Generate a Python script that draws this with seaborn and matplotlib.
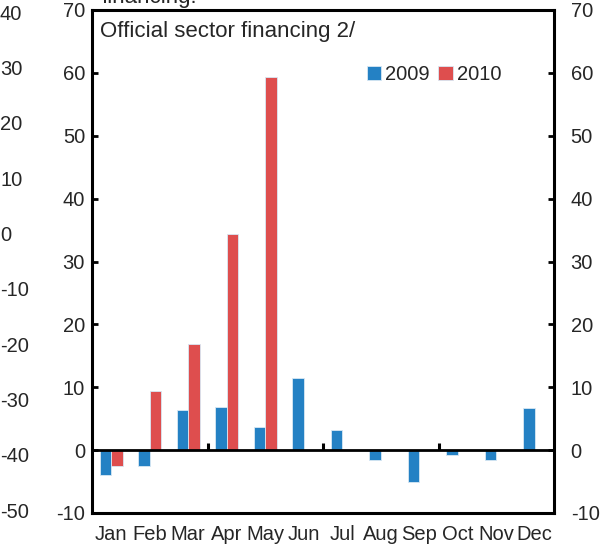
import numpy as np
import pandas as pd
import matplotlib
matplotlib.use("Agg")
import matplotlib.pyplot as plt
import matplotlib.transforms as mtrans
import seaborn as sns

months = ["Jan", "Feb", "Mar", "Apr", "May", "Jun", "Jul", "Aug", "Sep", "Oct", "Nov", "Dec"]
vals_2009 = [-4.0, -2.5, 6.4, 6.9, 3.7, 11.5, 3.2, -1.6, -5.1, -0.8, -1.6, 6.7]
vals_2010 = [-2.5, 9.4, 16.9, 34.4, 59.4]
years = ["2009", "2010"]
y_ticks = [-10, 0, 10, 20, 30, 40, 50, 60, 70]
neighbor_ticks = [-50, -40, -30, -20, -10, 0, 10, 20, 30, 40]
title = "Official sector financing 2/"
clipped_title = "financing:"

rows = []
for m, v in zip(months, vals_2009):
    rows.append({"month": m, "year": "2009", "value": v})
for m, v in zip(months, vals_2010):
    rows.append({"month": m, "year": "2010", "value": v})
df = pd.DataFrame(rows)

sns.set_theme(style="white")
plt.rcParams["font.family"] = ["Liberation Sans", "DejaVu Sans"]
plt.rcParams["axes.unicode_minus"] = False
FS = 14.5
TFS = 16

W, H = 600, 547
fig = plt.figure(figsize=(W / 100, H / 100), dpi=100)
L, R, T, B = 92, 554, 10, 513
ax = fig.add_axes([L / W, 1 - B / H, (R - L) / W, (B - T) / H])

blue = "#2481C4"
red = "#DE4E4E"
sns.barplot(data=df, x="month", y="value", hue="year", order=months, hue_order=years,
            palette=[blue, red], saturation=1, width=0.6, errorbar=None, ax=ax,
            edgecolor="#d8e8f4", linewidth=0.6)

ax.set_ylim(-10, 70)
ax.set_xlim(-0.5, 11.5)
ax.set_yticks(y_ticks)
ax.set_xlabel("")
ax.set_ylabel("")
ax.axhline(0, color="black", lw=2, zorder=3)

for s in ax.spines.values():
    s.set_visible(True)
    s.set_color("black")
    s.set_linewidth(2.2)

ax.tick_params(axis="y", which="major", left=True, right=True, labelleft=True, labelright=True,
               direction="in", length=4, width=2, color="black", labelsize=FS, pad=5)
ax.tick_params(axis="x", bottom=False, length=0, labelsize=FS, pad=9)

off = mtrans.ScaledTranslation(7 / 72, 0, fig.dpi_scale_trans)
for t in ax.yaxis.get_major_ticks():
    t.label2.set_horizontalalignment("left")
    t.label2.set_transform(t.label2.get_transform() + off)

# Quarter ticks on zero line
sec = ax.secondary_xaxis(0.125)
sec.set_xticks([2.5, 5.5, 8.5])
sec.tick_params(axis="x", direction="in", length=5, width=2.2, labelbottom=False, labeltop=False,
                bottom=True, top=False, color="black")
for s in sec.spines.values():
    s.set_visible(False)

ax.text(0.017, 0.958, title, transform=ax.transAxes, fontsize=TFS, va="center", ha="left")

leg = ax.legend(loc="center", bbox_to_anchor=(0.74, 0.871), ncol=2, frameon=False, fontsize=FS,
                handlelength=0.7, handleheight=0.7, handletextpad=0.2, columnspacing=0.45)

# Clipped title text of the source figure
fig.text(102 / W, 1 - 3 / H, clipped_title, fontsize=TFS, ha="left", va="baseline")

# Neighbor panel tick labels (cropped)
ax2 = fig.add_axes([-0.2, 1 - 510 / H, 0.2, 498 / H])
ax2.set_ylim(-50, 40)
ax2.set_yticks(neighbor_ticks)
ax2.set_xticks([])
ax2.yaxis.tick_right()
ax2.tick_params(axis="y", length=0, pad=0, labelsize=FS)
for s in ax2.spines.values():
    s.set_visible(False)
ax2.patch.set_alpha(0)

fig.savefig("out.png", dpi=100)
